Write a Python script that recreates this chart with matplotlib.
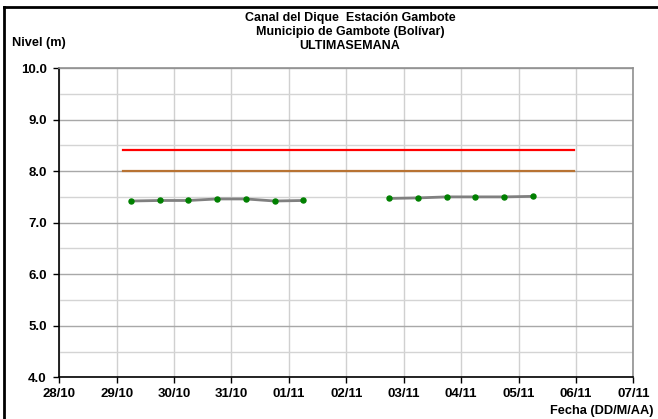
import datetime as dt
import matplotlib
matplotlib.use("Agg")
import matplotlib.pyplot as plt
import matplotlib.dates as mdates
from matplotlib.ticker import MultipleLocator

plt.rcParams['font.family'] = ['Liberation Sans', 'DejaVu Sans']

# level readings (two gaps in the record)
fechas_1 = ["2013-10-29 06:00", "2013-10-29 18:00", "2013-10-30 06:00", "2013-10-30 18:00",
            "2013-10-31 06:00", "2013-10-31 18:00", "2013-11-01 06:00"]
nivel_1 = [7.42, 7.43, 7.43, 7.46, 7.46, 7.42, 7.43]
fechas_2 = ["2013-11-02 18:00", "2013-11-03 06:00", "2013-11-03 18:00",
            "2013-11-04 06:00", "2013-11-04 18:00", "2013-11-05 06:00"]
nivel_2 = [7.47, 7.48, 7.50, 7.50, 7.50, 7.51]

# alert thresholds
umbral_fechas = ["2013-10-29 02:40", "2013-11-05 23:00"]
umbral_rojo = 8.40
umbral_naranja = 8.00

x_min, x_max = "2013-10-28", "2013-11-07"


def to_dt(vals):
    return [dt.datetime.fromisoformat(v) for v in vals]


fig = plt.figure(figsize=(6.58, 4.19), dpi=100)
ax = fig.add_axes([0.0901, 0.0995, 0.8724, 0.7382])

ax.plot(to_dt(umbral_fechas), [umbral_rojo] * 2, color='#ff0000', lw=1.6, zorder=3)
ax.plot(to_dt(umbral_fechas), [umbral_naranja] * 2, color='#b87333', lw=1.6, zorder=3)

for f, n in [(fechas_1, nivel_1), (fechas_2, nivel_2)]:
    ax.plot(to_dt(f), n, color='#808080', lw=2, zorder=4)
    ax.plot(to_dt(f), n, 'o', color='#008000', ms=3.6, zorder=5)

ax.set_xlim(dt.datetime.fromisoformat(x_min), dt.datetime.fromisoformat(x_max))
ax.set_ylim(4.0, 10.0)
ax.xaxis.set_major_locator(mdates.DayLocator())
ax.xaxis.set_major_formatter(mdates.DateFormatter('%d/%m'))
ax.yaxis.set_major_locator(MultipleLocator(1.0))
ax.yaxis.set_minor_locator(MultipleLocator(0.5))
ax.yaxis.set_major_formatter(plt.FormatStrFormatter('%.1f'))

ax.grid(axis='x', which='major', color='#d0d0d0', lw=1)
ax.grid(axis='y', which='major', color='#a8a8a8', lw=1)
ax.grid(axis='y', which='minor', color='#d4d4d4', lw=1)
ax.tick_params(which='minor', length=0)
ax.tick_params(which='major', direction='out', length=4, width=1, color='black')
ax.tick_params(axis='x', pad=4)
ax.tick_params(axis='y', pad=5)
for lab in ax.get_xticklabels() + ax.get_yticklabels():
    lab.set_fontweight('bold')
    lab.set_fontsize(9.5)

ax.spines['left'].set_color('black')
ax.spines['bottom'].set_color('black')
ax.spines['top'].set_color('#909090')
ax.spines['right'].set_color('#909090')
for s in ax.spines.values():
    s.set_linewidth(1.2)

fig.text(0.532, 1 - 32 / 419, "Canal del Dique  Estación Gambote\nMunicipio de Gambote (Bolívar)\nULTIMASEMANA",
         ha='center', va='center', multialignment='center', fontsize=9, fontweight='bold', linespacing=1.2)
fig.text(0.018, 0.898, "Nivel (m)", ha='left', va='center', fontsize=9.2, fontweight='bold')
fig.text(0.993, 0.019, "Fecha (DD/M/AA)", ha='right', va='center', fontsize=9.2, fontweight='bold')

# outer frame
fig.add_artist(plt.Line2D([3.5 / 658, 1.0], [1 - 7.5 / 419] * 2, transform=fig.transFigure, color='black', lw=2))
fig.add_artist(plt.Line2D([3.5 / 658] * 2, [0.0, 1 - 7.5 / 419], transform=fig.transFigure, color='black', lw=2))

fig.savefig('out.png', dpi=100)
